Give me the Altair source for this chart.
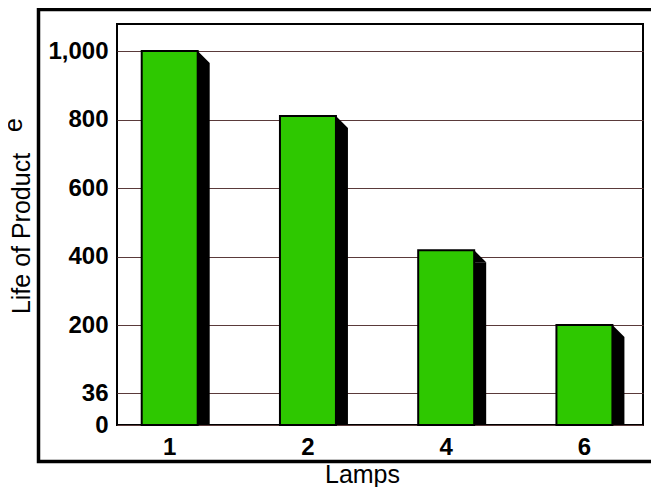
import altair as alt
import pandas as pd

lamps = ["1", "2", "4", "6"]
life = [1000, 810, 418, 200]
y_ticks = [0, 36, 200, 400, 600, 800, 1000]

df = pd.DataFrame({"Lamps": lamps, "Life": life})
FONT = "Liberation Sans, Arial, sans-serif"
GREEN = "#2ec800"

x_enc = alt.X(
    "Lamps:N",
    sort=lamps,
    scale=alt.Scale(paddingInner=0.595, paddingOuter=0.2, align=0.447),
    axis=alt.Axis(
        title="Lamps", labelAngle=0, labelFontSize=24, labelFontWeight="bold",
        labelPadding=10, ticks=False, domain=False, grid=False, labelColor="black",
        titleFontSize=25, titleFontWeight="normal", titleColor="black",
        titleX=245, titleY=57, titleBaseline="alphabetic", titleAnchor="middle",
        titleAlign="center", labelFont=FONT, titleFont=FONT,
    ),
)
y_enc = alt.Y(
    "Life:Q",
    scale=alt.Scale(domain=[0, 36, 200, 1000], range=[401, 369, 301, 27], nice=False, zero=False),
    axis=alt.Axis(
        title="Life of Product", values=y_ticks, labelExpr="format(datum.value, ',')",
        labelFontSize=24, labelFontWeight="bold", labelPadding=9, ticks=False,
        domain=False, grid=True, gridColor="#5a3a3a", gridWidth=1, labelColor="black",
        titleFontSize=25, titleFontWeight="normal", titleColor="black",
        titleAngle=-90, titleX=-88, titleY=209, titleAlign="center",
        titleBaseline="alphabetic", labelFont=FONT, titleFont=FONT,
        labelOverlap=False,
    ),
)

frame = alt.Chart(alt.Data(values=[{}])).mark_rect(
    fillOpacity=0, stroke="black", strokeWidth=3.5, clip=False
).encode(
    x=alt.value(-78.5), x2=alt.value(570), y=alt.value(-14.5), y2=alt.value(437.5)
)

extra = alt.Chart(alt.Data(values=[{"t": "e"}])).mark_text(
    angle=270, fontSize=25, font=FONT, align="center", baseline="alphabetic", color="black"
).encode(x=alt.value(-95), y=alt.value(101), text="t:N")

base = alt.Chart(df)

shadow = base.mark_bar(color="black", xOffset=12, yOffset=12, clip=True).encode(
    x=x_enc, y=y_enc, y2=alt.Y2(datum=0)
)
tri = base.mark_point(
    shape="M -1 -1 L 1 1 L -1 1 Z", size=144, filled=True, color="black",
    opacity=1, strokeWidth=0, xOffset=34, yOffset=6,
).encode(x=x_enc, y=y_enc)
bars = base.mark_bar(color=GREEN, stroke="black", strokeWidth=2).encode(
    x=x_enc, y=y_enc, y2=alt.Y2(datum=0)
)

chart = alt.layer(frame, extra, shadow, tri, bars).properties(
    width=526, height=401,
    autosize=alt.AutoSizeParams(type="none"),
    padding={"left": 109, "top": 16, "right": 8, "bottom": 62},
    background="white",
).configure_view(stroke="black", strokeWidth=2)

chart.save("out.html", embed_options={"renderer": "svg", "actions": False})
